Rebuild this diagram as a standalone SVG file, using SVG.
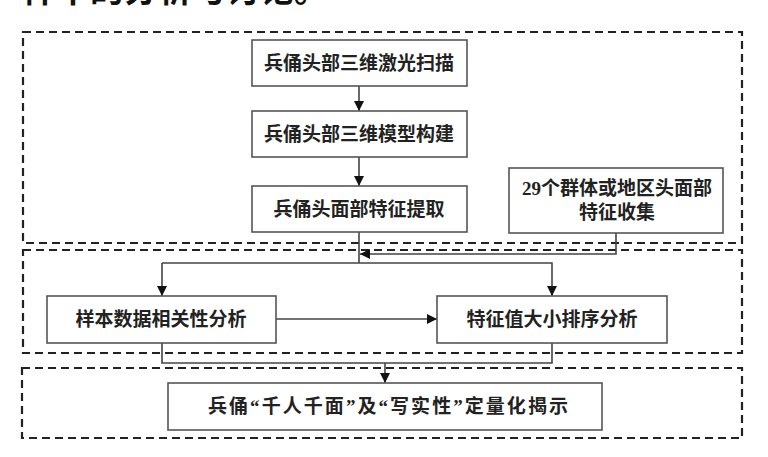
<svg xmlns="http://www.w3.org/2000/svg" width="768" height="457" viewBox="0 0 768 457">
<style>
.zone{fill:none;stroke:#222;stroke-width:2.2;stroke-dasharray:8 5}
.node{fill:#fff;stroke:#555;stroke-width:1.6}
.t{font-family:"Liberation Serif","Noto Sans CJK SC",serif;font-weight:bold;font-size:19px;fill:#222;text-anchor:middle}
.c{fill:none;stroke:#444;stroke-width:1.6}
</style>
<defs>
<marker id="ah" viewBox="0 0 10 10" refX="10" refY="5" markerWidth="10" markerHeight="10" markerUnits="userSpaceOnUse" orient="auto">
<path d="M0,0 L10,5 L0,10 Z" fill="#111"/>
</marker>
</defs>
<rect width="768" height="457" fill="#fff"/>
<text x="22" y="2" font-family="Noto Sans CJK SC, sans-serif" font-weight="bold" font-size="34" fill="#111">样本的分析与讨论。</text>
<g id="zones">
<rect class="zone" x="23" y="32" width="719" height="211"/>
<rect class="zone" x="23" y="250" width="719" height="103"/>
<rect class="zone" x="22" y="368" width="720" height="70"/>
</g>
<g id="connectors">
<line class="c" x1="359" y1="86" x2="359" y2="111" marker-end="url(#ah)"/>
<line class="c" x1="359" y1="157" x2="359" y2="186" marker-end="url(#ah)"/>
<polyline class="c" points="359,232 359,263"/>
<polyline class="c" points="162,263 552,263 552,296" marker-end="url(#ah)"/>
<line class="c" x1="162" y1="263" x2="162" y2="296" marker-end="url(#ah)"/>
<polyline class="c" points="616,233 616,254 360,254" marker-end="url(#ah)"/>
<line class="c" x1="276" y1="319" x2="437" y2="319" marker-end="url(#ah)"/>
<polyline class="c" points="162,343 162,363 552,363 552,343"/>
<line class="c" x1="385" y1="363" x2="385" y2="383" marker-end="url(#ah)"/>
</g>
<g id="n1"><rect class="node" x="252" y="40" width="215" height="46"/><text class="t" x="359" y="70">兵俑头部三维激光扫描</text></g>
<g id="n2"><rect class="node" x="252" y="111" width="215" height="46"/><text class="t" x="359" y="141">兵俑头部三维模型构建</text></g>
<g id="n3"><rect class="node" x="252" y="186" width="215" height="46"/><text class="t" x="359" y="216">兵俑头面部特征提取</text></g>
<g id="n4"><rect class="node" x="509" y="168" width="214" height="65"/><text class="t" x="617" y="195">29个群体或地区头面部</text><text class="t" x="617" y="219">特征收集</text></g>
<g id="n5"><rect class="node" x="47" y="296" width="229" height="47"/><text class="t" x="161" y="326">样本数据相关性分析</text></g>
<g id="n6"><rect class="node" x="437" y="296" width="230" height="47"/><text class="t" x="552" y="326">特征值大小排序分析</text></g>
<g id="n7"><rect class="node" x="168" y="383" width="434" height="47"/><text class="t" x="388" y="413" textLength="360" lengthAdjust="spacing">兵俑“千人千面”及“写实性”定量化揭示</text></g>
</svg>
